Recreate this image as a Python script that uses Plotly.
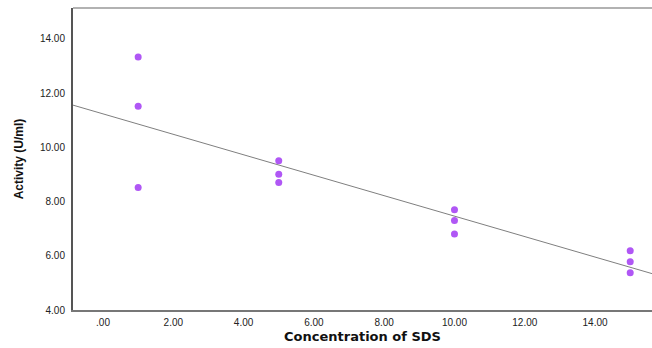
import numpy as np
import plotly.graph_objects as go

# Data
sds_conc = [1, 1, 1, 5, 5, 5, 10, 10, 10, 15, 15, 15]
activity = [13.33, 11.52, 8.52, 9.51, 9.01, 8.70, 7.70, 7.30, 6.80, 6.19, 5.78, 5.37]

x_tick_vals = [0, 2, 4, 6, 8, 10, 12, 14]
x_tick_text = [".00", "2.00", "4.00", "6.00", "8.00", "10.00", "12.00", "14.00"]
y_tick_vals = [4, 6, 8, 10, 12, 14]
y_tick_text = ["4.00", "6.00", "8.00", "10.00", "12.00", "14.00"]

x_range = [-0.854, 15.62]
y_range = [4, 15.14]

# Linear fit line across the full x range
slope, intercept = np.polyfit(sds_conc, activity, 1)
fit_x = np.array(x_range)
fit_y = slope * fit_x + intercept

fig = go.Figure()
fig.add_trace(go.Scatter(
    x=fit_x, y=fit_y, mode="lines",
    line=dict(color="#7f7f7f", width=1), hoverinfo="skip", showlegend=False,
))
fig.add_trace(go.Scatter(
    x=sds_conc, y=activity, mode="markers",
    marker=dict(color="#b057f5", size=7, line=dict(width=0)),
    showlegend=False,
))

tick_font = dict(family="Liberation Sans, Arial, sans-serif", size=10, color="#222222")

fig.update_layout(
    width=652, height=348,
    margin=dict(l=73, r=0, t=8, b=38),
    paper_bgcolor="white", plot_bgcolor="white",
    xaxis=dict(
        range=x_range, tickvals=x_tick_vals, ticktext=x_tick_text,
        showgrid=False, zeroline=False, showline=True, linecolor="#777777", linewidth=2,
        ticks="", tickfont=tick_font, ticklabelstandoff=2,
        title=dict(text="Concentration of SDS", standoff=5,
                   font=dict(family="DejaVu Sans, sans-serif", size=13, color="#111111", weight="bold")),
    ),
    yaxis=dict(
        range=y_range, tickvals=y_tick_vals, ticktext=y_tick_text,
        showgrid=False, zeroline=False, showline=True, linecolor="#555555", linewidth=2,
        ticks="", tickfont=tick_font, ticklabelstandoff=4,
        title=dict(text="Activity (U/ml)", standoff=14,
                   font=dict(family="Liberation Sans Narrow, Liberation Sans, Arial Narrow, sans-serif",
                             size=12, color="#111111", weight="bold")),
    ),
    shapes=[dict(type="line", xref="paper", yref="paper", x0=0, x1=1, y0=1, y1=1,
                 line=dict(color="#999999", width=1.5))],
)

fig.write_html("out.html", config={"displayModeBar": False},
               post_script="document.body.style.margin='0';document.body.style.overflow='hidden';")
